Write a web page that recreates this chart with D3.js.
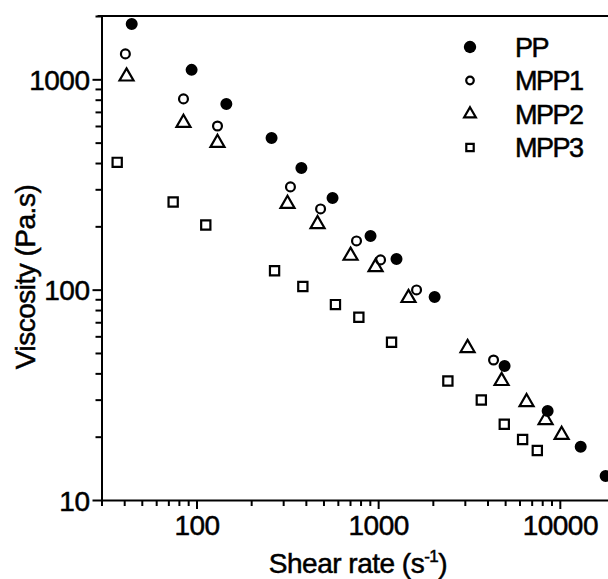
<!DOCTYPE html>
<html>
<head>
<meta charset="utf-8">
<script src="https://cdn.jsdelivr.net/npm/d3@7"></script>
<style>
  body { margin: 0; background: #fff; }
  text { font-family: "Liberation Sans", Arial, sans-serif; fill: #000; stroke: #000; stroke-width: 0.5px; }
</style>
</head>
<body>
<div id="chart"></div>
<script>
// series
var seriesNames = ["PP", "MPP1", "MPP2", "MPP3"];

var ppRate = [44, 94, 146, 259, 378, 561, 908, 1262, 2046, 4966, 8570, 13030, 17870];
var ppVisc = [1834, 1109, 764, 526, 379, 273, 180, 140, 92.3, 43.4, 26.5, 17.9, 13.0];

var mpp1Rate = [40.6, 84.8, 130.5, 329, 482, 760, 1031, 1627, 4318];
var mpp1Visc = [1321, 807, 600, 308, 242, 170.5, 138.5, 99.7, 46.3];

var mpp2Rate = [41.2, 84.8, 130.5, 317, 464, 705, 968, 1469, 3106, 4781, 6561, 8351, 10233];
var mpp2Visc = [1032, 621, 499, 256, 205, 145, 128, 91.3, 52.8, 36.8, 29.2, 24.0, 20.4];

var mpp3Rate = [36.6, 74.4, 112.5, 269, 385, 582, 783, 1185, 2420, 3697, 4946, 6240, 7518];
var mpp3Visc = [403, 261, 203, 123, 103.5, 84.9, 73.9, 56.2, 36.8, 29.9, 22.9, 19.4, 17.2];

var xMajor = [100, 1000, 10000];
var xMinor = [30, 40, 50, 60, 70, 80, 90, 200, 300, 400, 500, 600, 700, 800, 900,
              2000, 3000, 4000, 5000, 6000, 7000, 8000, 9000, 20000];
var yMajor = [10, 100, 1000];
var yMinor = [20, 30, 40, 50, 60, 70, 80, 90, 200, 300, 400, 500, 600, 700, 800, 900, 2000];

var margin = { top: 16, left: 101.5 },
    width = 513,
    height = 484;

var svg = d3.select("#chart").append("svg")
    .attr("width", 608)
    .attr("height", 579);

var g = svg.append("g")
    .attr("transform", "translate(" + margin.left + "," + margin.top + ")");

var x = d3.scaleLog().domain([30, 20000]).range([0, width]);
var y = d3.scaleLog().domain([10, 2000]).range([height, 0]);

// minor ticks first, then the main axes on top
g.append("g").attr("class", "minor")
    .attr("transform", "translate(0," + height + ")")
    .call(d3.axisBottom(x).tickValues(xMinor).tickFormat("").tickSize(6).tickSizeOuter(0));
g.append("g").attr("class", "minor")
    .call(d3.axisLeft(y).tickValues(yMinor).tickFormat("").tickSize(6).tickSizeOuter(0));
g.selectAll(".minor .domain").remove();

var xAxis = g.append("g")
    .attr("transform", "translate(0," + height + ")")
    .call(d3.axisBottom(x).tickValues(xMajor).tickFormat(d3.format("d"))
        .tickSize(9).tickPadding(4).tickSizeOuter(0));

var yAxis = g.append("g")
    .call(d3.axisLeft(y).tickValues(yMajor).tickFormat(d3.format("d"))
        .tickSize(9).tickPadding(3).tickSizeOuter(0));

svg.selectAll(".domain, .tick line").attr("stroke", "#000").attr("stroke-width", 2);
svg.selectAll(".tick text")
    .style("font-size", "28px")
    .style("letter-spacing", "-0.5px")
    .attr("fill", "#000");
xAxis.selectAll(".tick text").attr("dy", "0.8em");
yAxis.selectAll(".tick text").attr("dy", "0.36em");

// top frame line
g.append("line")
    .attr("x1", -4).attr("x2", width)
    .attr("y1", 0).attr("y2", 0)
    .attr("stroke", "#000").attr("stroke-width", 2);

// markers
var shapes = [
  { name: "PP", rate: ppRate, visc: ppVisc, type: d3.symbolCircle, size: 113, fill: "#000" },
  { name: "MPP1", rate: mpp1Rate, visc: mpp1Visc, type: d3.symbolCircle, size: 62, fill: "none" },
  { name: "MPP2", rate: mpp2Rate, visc: mpp2Visc, type: d3.symbolTriangle, size: 85, fill: "none" },
  { name: "MPP3", rate: mpp3Rate, visc: mpp3Visc, type: d3.symbolSquare, size: 85, fill: "none" }
];

// draw open ones first so the filled dots sit on top
[3, 2, 1, 0].forEach(function(i) {
  var s = shapes[i];
  var pts = s.rate.map(function(r, j) { return { r: r, v: s.visc[j] }; });
  g.selectAll(".pt" + i)
      .data(pts)
      .enter()
      .append("path")
      .attr("class", "pt" + i)
      .attr("transform", function(d) { return "translate(" + x(d.r) + "," + y(d.v) + ")"; })
      .attr("d", d3.symbol().type(s.type).size(s.size))
      .attr("fill", s.fill === "none" ? "none" : "#000")
      .attr("stroke", s.fill === "none" ? "#000" : "none")
      .attr("stroke-width", 2.2);
});

// legend
var legend = svg.append("g").attr("transform", "translate(470,47)");
var legendSizes = [120, 45, 60, 55];
shapes.forEach(function(s, i) {
  var row = legend.append("g").attr("transform", "translate(0," + i * 33.5 + ")");
  row.append("path")
      .attr("d", d3.symbol().type(s.type).size(legendSizes[i]))
      .attr("fill", s.fill === "none" ? "none" : "#000")
      .attr("stroke", s.fill === "none" ? "#000" : "none")
      .attr("stroke-width", 2.2);
  row.append("text")
      .attr("x", 45)
      .attr("dy", "0.36em")
      .style("font-size", "27px")
      .style("letter-spacing", "-1.5px")
      .text(seriesNames[i]);
});

// axis titles
var xTitle = svg.append("text")
    .attr("x", margin.left + width / 2)
    .attr("y", 573)
    .attr("text-anchor", "middle")
    .style("font-size", "28px")
    .style("letter-spacing", "-0.5px");
xTitle.append("tspan").text("Shear rate (s");
xTitle.append("tspan").attr("dy", -11).style("font-size", "17px").text("-1");
xTitle.append("tspan").attr("dy", 11).text(")");

svg.append("text")
    .attr("transform", "translate(35,277) rotate(-90)")
    .attr("text-anchor", "middle")
    .style("font-size", "28px")
    .style("letter-spacing", "-0.5px")
    .text("Viscosity (Pa.s)");
</script>
</body>
</html>
